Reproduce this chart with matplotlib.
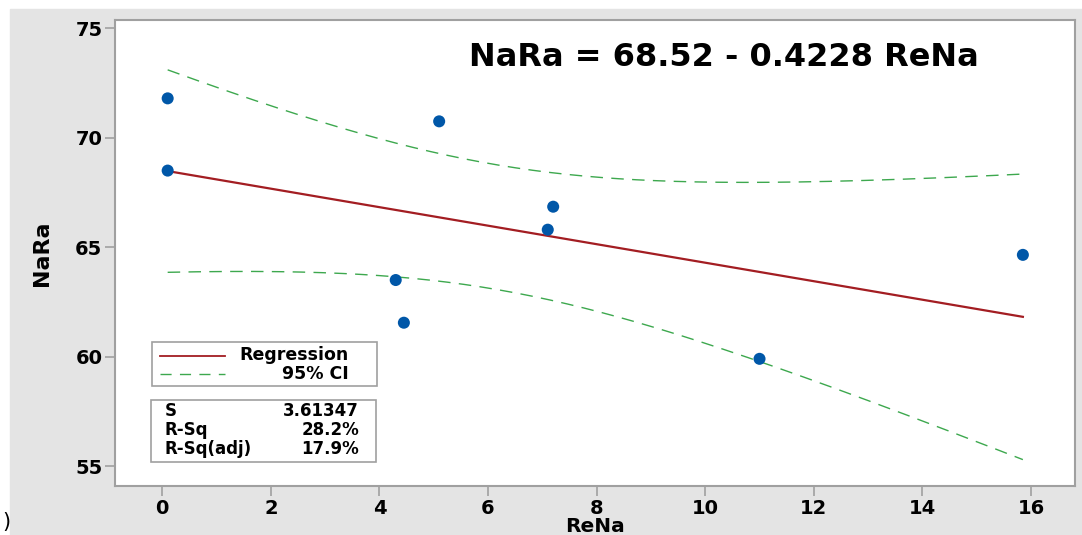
import numpy as np
import matplotlib.pyplot as plt
from matplotlib.patches import Rectangle
from matplotlib.lines import Line2D

# observations
rena = [0.1, 0.1, 4.3, 4.45, 5.1, 7.1, 7.2, 11.0, 15.85]
nara = [71.8, 68.5, 63.5, 61.55, 70.75, 65.8, 66.85, 59.9, 64.65]

# fitted model
b0 = 68.52
b1 = -0.4228
s_err = 3.61347
r_sq = "28.2%"
r_sq_adj = "17.9%"
t_crit = 2.365  # t(0.975, df=7)

xticks = [0, 2, 4, 6, 8, 10, 12, 14, 16]
yticks = [55, 60, 65, 70, 75]

x = np.array(rena)
n = len(x)
sxx = np.sum((x - x.mean()) ** 2)
xx = np.linspace(x.min(), x.max(), 200)
fit = b0 + b1 * xx
hw = t_crit * s_err * np.sqrt(1 / n + (xx - x.mean()) ** 2 / sxx)

W, H = 1082, 535
fig = plt.figure(figsize=(W / 100, H / 100), dpi=100)
fig.patch.set_facecolor("white")
fig.patches.append(Rectangle((10 / W, 0), 1 - 10 / W, (H - 9) / H,
                             transform=fig.transFigure, color="#e4e4e4", zorder=-5))

ax = fig.add_axes([115 / W, 1 - 486 / H, 960 / W, 466 / H])
ax.set_facecolor("white")

red = "#a31d22"
green = "#3da84e"
blue = "#0057a8"

ax.plot(xx, fit, color=red, lw=1.6, zorder=3)
ax.plot(xx, fit + hw, color=green, lw=1.0, dashes=(9, 6), zorder=2)
ax.plot(xx, fit - hw, color=green, lw=1.0, dashes=(9, 6), zorder=2)
ax.scatter(rena, nara, s=75, color=blue, zorder=4, edgecolors="none")

ax.set_xlim(-0.87, 16.81)
ax.set_ylim(54.09, 75.38)
ax.set_xticks(xticks)
ax.set_yticks(yticks)
for sp in ax.spines.values():
    sp.set_color("#a0a0a0")
    sp.set_linewidth(1.5)
ax.tick_params(direction="out", length=7, width=1.2, color="#a0a0a0",
               labelsize=14, pad=2)
for lab in ax.get_xticklabels() + ax.get_yticklabels():
    lab.set_fontweight("bold")

ax.set_xlabel("ReNa", fontsize=14.5, fontweight="bold", labelpad=0)
ax.set_ylabel("NaRa", fontsize=16, fontweight="bold", labelpad=17)

ax.text(0.3685, 0.92, f"NaRa = {b0:.2f} - {abs(b1):.4f} ReNa",
        transform=ax.transAxes, fontsize=23, fontweight="bold", va="center")

# legend box
def ax_px(px, py):
    return ((px - 115) / 960, (486 - py) / 466)

x0, y0 = ax_px(152, 386)
x1, y1 = ax_px(377, 342)
ax.add_patch(Rectangle((x0, y0), x1 - x0, y1 - y0, transform=ax.transAxes,
                       fill=True, facecolor="white", edgecolor="#a0a0a0", lw=1.2, zorder=5))
a, b = ax_px(160, 356)
c, _ = ax_px(225, 356)
ax.add_line(Line2D([a, c], [b, b], transform=ax.transAxes, color=red, lw=1.3, zorder=6))
a, b = ax_px(160, 374)
ax.add_line(Line2D([a, c], [b, b], transform=ax.transAxes, color=green, lw=1.0,
                   dashes=(8, 6), zorder=6))
tx, ty = ax_px(349, 355)
ax.text(tx, ty, "Regression", transform=ax.transAxes, ha="right", va="center",
        fontsize=12.5, fontweight="bold", zorder=6)
tx, ty = ax_px(349, 374)
ax.text(tx, ty, "95% CI", transform=ax.transAxes, ha="right", va="center",
        fontsize=12.5, fontweight="bold", zorder=6)

# summary box
x0, y0 = ax_px(151, 462)
x1, y1 = ax_px(376, 400)
ax.add_patch(Rectangle((x0, y0), x1 - x0, y1 - y0, transform=ax.transAxes,
                       fill=True, facecolor="white", edgecolor="#a0a0a0", lw=1.2, zorder=5))
rows = [("S", f"{s_err:.5f}"), ("R-Sq", r_sq), ("R-Sq(adj)", r_sq_adj)]
for i, (k, v) in enumerate(rows):
    lx, ly = ax_px(165, 411 + 19 * i)
    rx, _ = ax_px(359, 411)
    ax.text(lx, ly, k, transform=ax.transAxes, ha="left", va="center",
            fontsize=12, fontweight="bold", zorder=6)
    ax.text(rx, ly, v, transform=ax.transAxes, ha="right", va="center",
            fontsize=12, fontweight="bold", zorder=6)

fig.text(2 / W, 1 - 522 / H, ")", fontsize=15, va="center")

fig.savefig("out.png", dpi=100)
